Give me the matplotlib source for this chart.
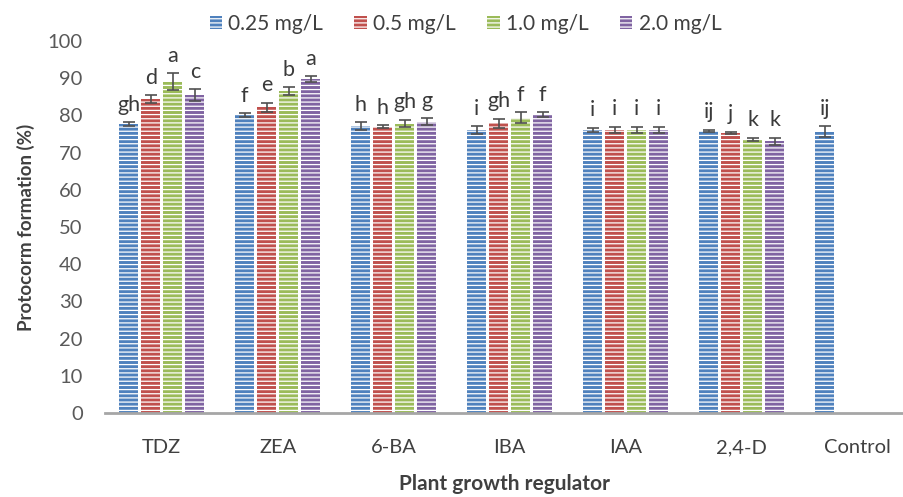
import numpy as np
import matplotlib.pyplot as plt

plt.rcParams['font.family'] = ['Lato', 'DejaVu Sans']
plt.rcParams['hatch.linewidth'] = 0.9

regulators = ['TDZ', 'ZEA', '6-BA', 'IBA', 'IAA', '2,4-D', 'Control']
doses = ['0.25 mg/L', '0.5 mg/L', '1.0 mg/L', '2.0 mg/L']

# protocorm formation (%) per dose, control only has one value
means = [
    [77.7, 80.1, 77.2, 76.1, 76.1, 75.8, 75.6],
    [84.4, 82.2, 77.0, 77.9, 76.1, 75.3, np.nan],
    [89.0, 86.6, 77.8, 79.4, 76.1, 73.5, np.nan],
    [85.5, 89.8, 78.3, 80.3, 76.1, 73.0, np.nan],
]
errs = [
    [0.5, 0.5, 1.0, 1.0, 0.6, 0.3, 1.5],
    [1.0, 1.2, 0.3, 1.2, 0.8, 0.3, np.nan],
    [2.3, 1.0, 1.0, 1.4, 0.9, 0.5, np.nan],
    [1.5, 0.8, 1.0, 0.6, 0.9, 1.0, np.nan],
]
letters = [
    ['gh', 'f', 'h', 'i', 'i', 'ij', 'ij'],
    ['d', 'e', 'h', 'gh', 'i', 'j', ''],
    ['a', 'b', 'gh', 'f', 'i', 'k', ''],
    ['c', 'a', 'g', 'f', 'i', 'k', ''],
]
colors = ['#4F81BD', '#C0504D', '#9BBB59', '#8064A2']

fig = plt.figure(figsize=(9.04, 4.97), dpi=100)
ax = fig.add_axes([0.116, 0.169, 0.884, 0.7485])

x = np.arange(len(regulators))
slot = 0.19
width = 0.16
for i in range(4):
    pos = x + (i - 1.5) * slot
    m = np.array(means[i])
    e = np.array(errs[i])
    ax.bar(pos, m, width, color=colors[i], edgecolor='white', linewidth=0,
           hatch='----', label=doses[i])
    ax.errorbar(pos, m, yerr=e, fmt='none', ecolor='#505050',
                elinewidth=1.2, capsize=4, capthick=1.2)
    for p, v, er, t in zip(pos, m, e, letters[i]):
        if t:
            ax.text(p, v + er + 2.0, t, ha='center', va='bottom',
                    fontsize=15.5, color='#3a3a3a')

ax.set_xlim(-0.49, 6.4)
ax.set_ylim(0, 100)
ax.set_yticks(np.arange(0, 101, 10))
ax.set_xticks(x)
ax.set_xticklabels(regulators)
ax.tick_params(axis='both', length=0, labelsize=14.5, colors='#595959')
ax.tick_params(axis='y', pad=16)
ax.tick_params(axis='x', pad=19, labelcolor='#404040')
for s in ['top', 'right', 'left']:
    ax.spines[s].set_visible(False)
ax.spines['bottom'].set_color('#A6A6A6')
ax.spines['bottom'].set_linewidth(2)

ax.set_ylabel('Protocorm formation (%)', fontsize=13.5, fontweight='bold',
              color='#404040', labelpad=9)
ax.set_xlabel('Plant growth regulator', fontsize=15, fontweight='bold',
              color='#404040', labelpad=13)

fig.legend(loc='upper center', bbox_to_anchor=(0.515, 1.01), ncol=4,
           frameon=False, fontsize=15, handlelength=0.6, handleheight=0.6,
           handletextpad=0.3, columnspacing=1.5, labelcolor='#404040')

fig.savefig('out.png', dpi=100)
